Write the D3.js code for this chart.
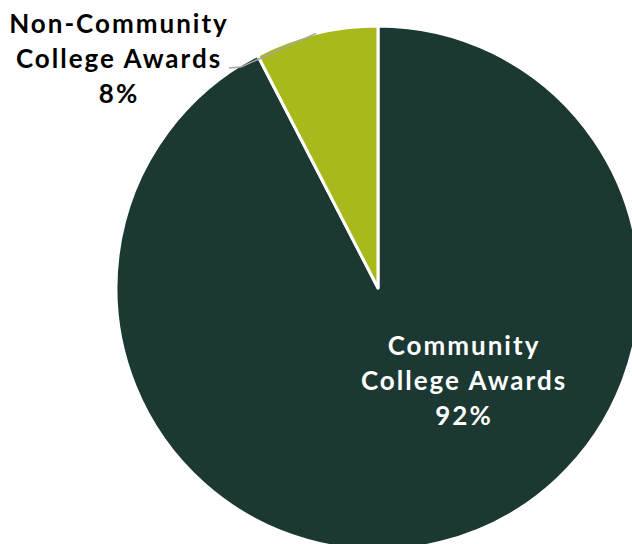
<!DOCTYPE html>
<html>
<head>
<meta charset="utf-8">
<script src="https://cdn.jsdelivr.net/npm/d3@7"></script>
<style>
  body { margin: 0; background: #fff; }
  text { font-family: Lato, "DejaVu Sans", sans-serif; font-weight: bold; letter-spacing: 2px; }
</style>
</head>
<body>
<div id="chart"></div>
<script>
// Data
const categories = ["Community College Awards", "Non-Community College Awards"];
const values = [92.4, 7.6];
const labelLines = [["Community", "College Awards", "92%"], ["Non-Community", "College Awards", "8%"]];
const colors = ["#1b3832", "#a8b91c"];

const width = 632, height = 544;
const cx = 378, cy = 288, radius = 262;

const svg = d3.select("#chart")
    .append("svg")
    .attr("width", width)
    .attr("height", height);

const g = svg.append("g").attr("transform", `translate(${cx},${cy})`);

const pie = d3.pie().sort(null).value(d => d)
    .startAngle(0).endAngle(2 * Math.PI);
const arcs = pie(values);

const arc = d3.arc().innerRadius(0).outerRadius(radius);

g.selectAll("path.slice")
    .data(arcs)
    .enter()
    .append("path")
    .attr("class", "slice")
    .attr("d", arc)
    .attr("fill", (d, i) => colors[i])
    .attr("stroke", "#fff")
    .attr("stroke-width", 3)
    .attr("stroke-linejoin", "round");

// Label for big slice (inside)
const inLabel = g.append("text")
    .attr("text-anchor", "middle")
    .attr("fill", "#fff")
    .style("font-size", "26px");
labelLines[0].forEach((t, j) => {
    inLabel.append("tspan").attr("x", 86).attr("y", 67 + j * 35).text(t);
});

// Label for small slice (outside, with leader line)
const small = arcs[1];
const mid = (small.startAngle + small.endAngle) / 2;
const edge = [radius * Math.sin(mid), -radius * Math.cos(mid)];
g.append("polyline")
    .attr("points", [[-149, -220], [-137, -221], edge].map(p => p.join(",")).join(" "))
    .attr("fill", "none")
    .attr("stroke", "#a6a6a6")
    .attr("stroke-width", 1.5);

const outLabel = g.append("text")
    .attr("text-anchor", "middle")
    .attr("fill", "#000")
    .style("font-size", "26px");
labelLines[1].forEach((t, j) => {
    outLabel.append("tspan").attr("x", -259).attr("y", -255 + j * 35).text(t);
});
</script>
</body>
</html>
